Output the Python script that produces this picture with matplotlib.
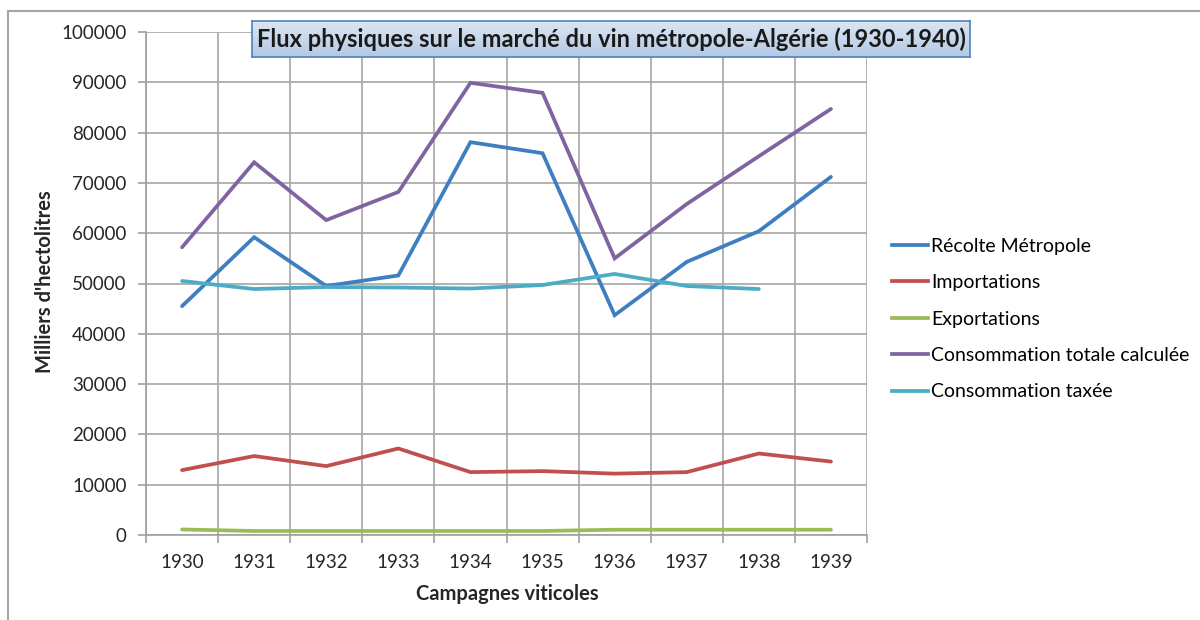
import numpy as np
import matplotlib
matplotlib.use("Agg")
import matplotlib.pyplot as plt
from matplotlib.lines import Line2D
from matplotlib.colors import LinearSegmentedColormap

plt.rcParams['font.family'] = ['Lato', 'DejaVu Sans']

years = ['1930', '1931', '1932', '1933', '1934', '1935', '1936', '1937', '1938', '1939']
recolte = [45500, 59200, 49500, 51600, 78100, 75900, 43700, 54300, 60400, 71200]
importations = [12900, 15700, 13700, 17200, 12500, 12700, 12200, 12500, 16200, 14600]
exportations = [1100, 800, 800, 800, 800, 800, 1050, 1050, 1050, 1050]
conso_totale = [57200, 74100, 62600, 68200, 89900, 87900, 55000, 65800, 75300, 84700]
conso_taxee = [50500, 48900, 49300, 49200, 49000, 49700, 51900, 49500, 48900]

series_labels = ['Récolte Métropole', 'Importations', 'Exportations',
                 'Consommation totale calculée', 'Consommation taxée']
colors = ['#3F7EC1', '#C0504D', '#9BBB59', '#8064A2', '#4BACC6']
yticks = [0, 10000, 20000, 30000, 40000, 50000, 60000, 70000, 80000, 90000, 100000]

title = 'Flux physiques sur le marché du vin métropole-Algérie (1930-1940)'
ylab = "Milliers d'hectolitres"
xlab = 'Campagnes viticoles'

W, H = 1200, 620
fig = plt.figure(figsize=(W / 100, H / 100), dpi=100)

# outer chart border
fig.add_artist(Line2D([8 / W, 1.0], [1 - 10.5 / H, 1 - 10.5 / H], color='#A6A6A6', lw=1.5))
fig.add_artist(Line2D([8 / W, 8 / W], [0, 1 - 10.5 / H], color='#A6A6A6', lw=1.5))

ax = fig.add_axes([146 / W, 85 / H, 721 / W, 503 / H])
x = np.arange(len(years))
all_series = [recolte, importations, exportations, conso_totale, conso_taxee]
for vals, c, lab in zip(all_series, colors, series_labels):
    ax.plot(x[:len(vals)], vals, color=c, lw=2.7, label=lab, solid_capstyle='round',
            solid_joinstyle='miter', zorder=3)

ax.set_xlim(-0.5, len(years) - 0.5)
ax.set_ylim(0, 100000)
ax.set_yticks(yticks)
ax.set_yticklabels([str(v) for v in yticks])
ax.set_xticks(x)
ax.set_xticklabels(years)
ax.set_xticks(np.arange(-0.5, len(years)), minor=True)
ax.tick_params(axis='x', which='major', length=0, pad=14, labelsize=13.5, colors='#262626')
ax.tick_params(axis='x', which='minor', length=6, width=1.2, color='#A0A0A0')
ax.tick_params(axis='y', which='major', length=6, width=1.2, color='#A0A0A0', pad=8,
               labelsize=13.5, labelcolor='#262626')
ax.grid(True, axis='y', which='major', color='#A6A6A6', lw=1.2, zorder=0)
ax.grid(True, axis='x', which='minor', color='#A6A6A6', lw=1.2, zorder=0)
for s in ['top', 'right']:
    ax.spines[s].set_visible(False)
for s in ['left', 'bottom']:
    ax.spines[s].set_color('#A0A0A0')
    ax.spines[s].set_linewidth(1.2)
ax.set_axisbelow(True)

# legend
handles = [Line2D([], [], color=c, lw=2.7) for c in colors]
fig.legend(handles, series_labels, loc='center left', bbox_to_anchor=(892 / W, 1 - 319 / H),
           frameon=False, fontsize=14, handlelength=1.85, handletextpad=0.15,
           labelspacing=1.0, borderpad=0, borderaxespad=0)

# axis titles
fig.text(45 / W, 1 - 282 / H, ylab, rotation=90, ha='center', va='center',
         fontsize=14.5, fontweight='bold', color='#262626')
fig.text(507 / W, 1 - 594 / H, xlab, ha='center', va='center',
         fontsize=14.5, fontweight='bold', color='#262626')

# title box with gradient
tax = fig.add_axes([252 / W, 1 - 57 / H, 718 / W, 36 / H])
cmap = LinearSegmentedColormap.from_list('tb', ['#B4C9E4', '#DCE6F2'])
grad = np.linspace(0, 1, 64).reshape(-1, 1)
tax.imshow(grad, aspect='auto', cmap=cmap, extent=[0, 1, 0, 1], origin='lower')
tax.set_xticks([]); tax.set_yticks([])
for s in tax.spines.values():
    s.set_color('#4F81BD'); s.set_linewidth(1.2)
tax.text(0.5, 0.5, title, ha='center', va='center', fontsize=17, fontweight='bold',
         color='#1A1A1A', transform=tax.transAxes)

fig.savefig('out.png', dpi=100)
